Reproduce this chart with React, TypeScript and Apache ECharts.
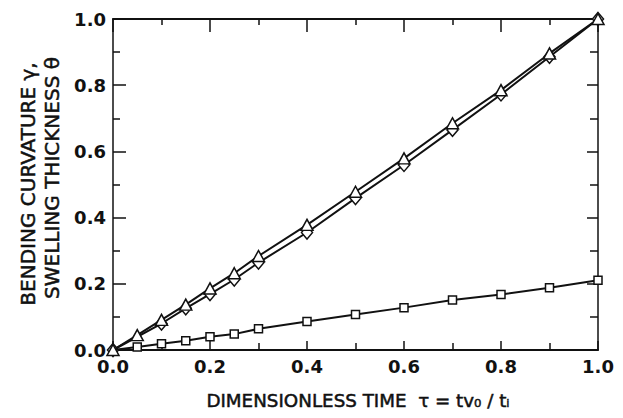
import React, { useEffect, useRef } from "react";
import * as echarts from "echarts";

const tauTri = [0, 0.05, 0.1, 0.15, 0.2, 0.25, 0.3, 0.4, 0.5, 0.6, 0.7, 0.8, 0.9, 1.0];
const curvTri = [0, 0.045, 0.091, 0.137, 0.186, 0.232, 0.284, 0.378, 0.478, 0.579, 0.685, 0.785, 0.896, 1.0];
const tauDia = [0, 0.1, 0.15, 0.2, 0.25, 0.3, 0.4, 0.5, 0.6, 0.7, 0.8, 0.9, 1.0];
const curvDia = [0, 0.08, 0.126, 0.169, 0.213, 0.264, 0.355, 0.459, 0.559, 0.665, 0.772, 0.886, 1.0];
const tauSq = [0, 0.05, 0.1, 0.15, 0.2, 0.25, 0.3, 0.4, 0.5, 0.6, 0.7, 0.8, 0.9, 1.0];
const swellSq = [0, 0.009, 0.019, 0.028, 0.04, 0.048, 0.064, 0.086, 0.107, 0.128, 0.151, 0.168, 0.188, 0.211];

const xTitle = "DIMENSIONLESS TIME  τ = tv₀ / tᵢ";
const yTitle1 = "BENDING CURVATURE γ,";
const yTitle2 = "SWELLING THICKNESS θ";

const FONT = "DejaVu Sans";
const INK = "#111";

export default function App() {
  const ref = useRef<HTMLDivElement>(null);
  useEffect(() => {
    if (!ref.current) return;
    const chart = echarts.init(ref.current, null, { renderer: "svg" });
    const pairs = (xs: number[], ys: number[]) => xs.map((x, i) => [x, ys[i]]);
    const sqData = pairs(tauSq, swellSq).map((p, i) =>
      i === 0 ? { value: p, symbol: "none" } : { value: p }
    );
    const grid = { left: 113, top: 19, right: 25, bottom: 68 };
    const label = { fontFamily: FONT, fontSize: 18, fontWeight: "bold", color: INK };
    const titleStyle = { fontFamily: FONT, fill: INK, stroke: INK, lineWidth: 0.5, align: "center", verticalAlign: "middle" };
    chart.setOption({
      animation: false,
      backgroundColor: "#fff",
      grid,
      xAxis: [
        {
          type: "value", min: 0, max: 1, interval: 0.2, position: "bottom",
          axisLine: { show: true, onZero: false, lineStyle: { color: INK, width: 2 } },
          axisTick: { show: true, inside: true, length: 9, lineStyle: { color: INK, width: 1.5 } },
          minorTick: { show: true, splitNumber: 2, length: 7, lineStyle: { color: INK, width: 1.5 } },
          splitLine: { show: false },
          axisLabel: { ...label, margin: 7, formatter: (v: number) => v.toFixed(1) },
        },
        {
          type: "value", min: 0, max: 1, interval: 0.2, position: "top",
          axisLine: { show: true, onZero: false, lineStyle: { color: INK, width: 2 } },
          axisTick: { show: true, inside: true, length: 13, lineStyle: { color: INK, width: 1.5 } },
          minorTick: { show: true, splitNumber: 2, length: 6, lineStyle: { color: INK, width: 1.5 } },
          splitLine: { show: false },
          axisLabel: { show: false },
        },
      ],
      yAxis: [
        {
          type: "value", min: 0, max: 1, interval: 0.2, position: "left",
          axisLine: { show: true, onZero: false, lineStyle: { color: INK, width: 1.5 } },
          axisTick: { show: true, inside: true, length: 13, lineStyle: { color: INK, width: 1.5 } },
          minorTick: { show: true, splitNumber: 2, length: 7, lineStyle: { color: INK, width: 1.5 } },
          splitLine: { show: false },
          axisLabel: { ...label, margin: 7, formatter: (v: number) => v.toFixed(1) },
        },
        {
          type: "value", min: 0, max: 1, interval: 0.2, position: "right",
          axisLine: { show: true, onZero: false, lineStyle: { color: INK, width: 1.5 } },
          axisTick: { show: true, inside: true, length: 11, lineStyle: { color: INK, width: 1.5 } },
          minorTick: { show: true, splitNumber: 2, length: 8, lineStyle: { color: INK, width: 1.5 } },
          splitLine: { show: false },
          axisLabel: { show: false },
        },
      ],
      series: [
        {
          name: "curvature-diamond", type: "line", data: pairs(tauDia, curvDia),
          symbol: "diamond", symbolSize: [11, 13], z: 2,
          lineStyle: { color: INK, width: 2 },
          itemStyle: { color: "#fff", borderColor: INK, borderWidth: 1.5 },
        },
        {
          name: "curvature-triangle", type: "line", data: pairs(tauTri, curvTri),
          symbol: "triangle", symbolSize: [12, 11], z: 3,
          lineStyle: { color: INK, width: 2 },
          itemStyle: { color: "#fff", borderColor: INK, borderWidth: 1.5 },
        },
        {
          name: "swelling", type: "line", data: sqData,
          symbol: "rect", symbolSize: 8, z: 3,
          lineStyle: { color: INK, width: 2 },
          itemStyle: { color: "#fff", borderColor: INK, borderWidth: 1.5 },
        },
      ],
      graphic: [
        {
          type: "text", x: 358, y: 400,
          style: { ...titleStyle, text: xTitle, fontSize: 18.3 },
        },
        {
          type: "text", x: 28, y: 184, rotation: Math.PI / 2,
          style: { ...titleStyle, text: yTitle1, fontSize: 20 },
        },
        {
          type: "text", x: 52, y: 178, rotation: Math.PI / 2,
          style: { ...titleStyle, text: yTitle2, fontSize: 20 },
        },
      ],
    });
    return () => chart.dispose();
  }, []);
  return <div ref={ref} style={{ width: 623, height: 418, position: "absolute", left: 0, top: 0 }} />;
}
